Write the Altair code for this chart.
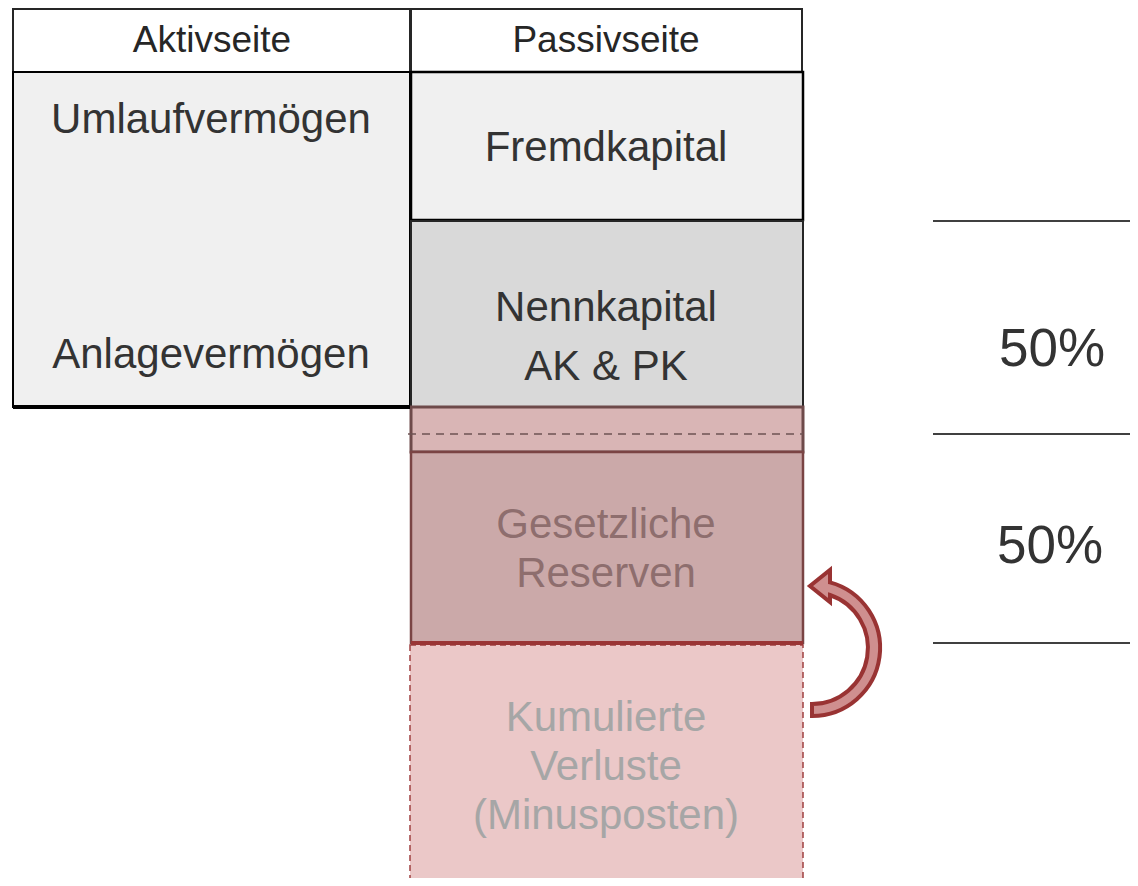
import altair as alt
import pandas as pd

# ---- data: balance-sheet blocks (diagram coordinates) ----
box_names = ["Aktivseite", "Passivseite", "Aktiva", "Fremdkapital", "Nennkapital",
             "Reserve-Streifen", "Gesetzliche Reserven"]
box_x0 = [13, 411, 13, 411, 411, 411, 411]
box_x1 = [410, 802, 410, 803, 803, 803, 803]
box_y0 = [9, 9, 72, 72, 221, 407, 452]
box_y1 = [72, 72, 407, 220, 407, 452, 643]
box_fill = ["#ffffff", "#ffffff", "#f0f0f0", "#f0f0f0", "#d9d9d9", "#d9b5b5", "#cba9a9"]
box_stroke = ["#262626", "#262626", "#000000", "#000000", "#262626", "#6e4a4a", "#7a4444"]
box_sw = [2, 2, 2, 2.5, 2, 3, 2.5]

loss_x0 = [410]
loss_x1 = [803]
loss_y0 = [645]
loss_y1 = [900]

rule_x0 = [13, 411, 408, 933, 933, 933]
rule_x1 = [410, 803, 803, 1140, 1140, 1140]
rule_y = [407, 643, 434, 221, 434, 643]
rule_col = ["#000000", "#993535", "#6e5353", "#000000", "#000000", "#000000"]
rule_sw = [4, 4, 1.5, 1.5, 1.5, 1.5]
rule_dash = ["solid", "solid", "dash", "solid", "solid", "solid"]

labels = ["Aktivseite", "Passivseite", "Umlaufvermögen", "Anlagevermögen", "Fremdkapital",
          "Nennkapital", "AK & PK", "Gesetzliche", "Reserven", "Kumulierte", "Verluste",
          "(Minusposten)", "50%", "50%"]
label_x = [212, 606, 211, 211, 606, 606, 606, 606, 606, 606, 606, 606, 1052, 1050]
label_y = [41, 41, 120, 355, 148, 308, 367, 525, 574, 718, 767, 816, 350, 547]
label_size = [37, 37, 42, 42, 42, 42, 42, 42, 42, 42, 42, 42, 53, 53]
label_col = ["#262626", "#262626", "#333333", "#333333", "#333333", "#333333", "#333333",
             "#8e6e6e", "#8e6e6e", "#a6a6a6", "#a6a6a6", "#a6a6a6", "#333333", "#333333"]

arrow_x = [812]
arrow_y = [648]

ARROW = ("M 0 0.85 A 0.85 0.85 0 0 0 0.225 -0.82 L 0.225 -0.975 L -0.025 -0.775 "
         "L 0.225 -0.575 L 0.225 -0.6625 A 0.7 0.7 0 0 1 0 0.7 Z")

xs = alt.Scale(domain=[8, 1130], nice=False, zero=False)
ys = alt.Scale(domain=[8, 878], nice=False, zero=False, reverse=True)

boxes = pd.DataFrame(dict(name=box_names, x0=box_x0, x1=box_x1, y0=box_y0, y1=box_y1,
                          fill=box_fill, stroke=box_stroke, sw=box_sw))
loss = pd.DataFrame(dict(x0=loss_x0, x1=loss_x1, y0=loss_y0, y1=loss_y1))
rules = pd.DataFrame(dict(x0=rule_x0, x1=rule_x1, y=rule_y, col=rule_col, sw=rule_sw, d=rule_dash))
texts = pd.DataFrame(dict(t=labels, x=label_x, y=label_y, fs=label_size, col=label_col))
arrow = pd.DataFrame(dict(x=arrow_x, y=arrow_y))

loss_layer = alt.Chart(loss).mark_rect(
    fill="#ebc8c8", stroke="#a04040", strokeWidth=1.5, strokeDash=[6, 4]
).encode(
    x=alt.X("x0:Q", scale=xs, axis=None), x2="x1:Q",
    y=alt.Y("y0:Q", scale=ys, axis=None), y2="y1:Q",
)

strip_outline = alt.Chart(boxes[boxes.name == "Reserve-Streifen"]).mark_rect(
    fill="#d9b5b5", stroke="#a03c3c", strokeWidth=2
).encode(
    x=alt.X("x0:Q", scale=xs, axis=None), x2="x1:Q",
    y=alt.Y("y0:Q", scale=ys, axis=None), y2="y1:Q",
)

box_layer = alt.Chart(boxes).mark_rect().encode(
    x=alt.X("x0:Q", scale=xs, axis=None), x2="x1:Q",
    y=alt.Y("y0:Q", scale=ys, axis=None), y2="y1:Q",
    fill=alt.Fill("fill:N", scale=None),
    stroke=alt.Stroke("stroke:N", scale=None),
    strokeWidth=alt.StrokeWidth("sw:Q", scale=None),
)

solid_rules = alt.Chart(rules[rules.d == "solid"]).mark_rule().encode(
    x=alt.X("x0:Q", scale=xs, axis=None), x2="x1:Q",
    y=alt.Y("y:Q", scale=ys, axis=None),
    color=alt.Color("col:N", scale=None),
    strokeWidth=alt.StrokeWidth("sw:Q", scale=None),
)
dash_rules = alt.Chart(rules[rules.d == "dash"]).mark_rule(strokeDash=[8, 6]).encode(
    x=alt.X("x0:Q", scale=xs, axis=None), x2="x1:Q",
    y=alt.Y("y:Q", scale=ys, axis=None),
    color=alt.Color("col:N", scale=None),
    strokeWidth=alt.StrokeWidth("sw:Q", scale=None),
)

arrow_layer = alt.Chart(arrow).mark_point(
    shape=ARROW, size=25600, filled=True, fill="#cf8f8f", stroke="#993333",
    strokeWidth=4, opacity=1
).encode(
    x=alt.X("x:Q", scale=xs, axis=None),
    y=alt.Y("y:Q", scale=ys, axis=None),
)

text_layer = alt.Chart(texts).mark_text(
    font="Liberation Sans", align="center", baseline="middle"
).encode(
    x=alt.X("x:Q", scale=xs, axis=None),
    y=alt.Y("y:Q", scale=ys, axis=None),
    text="t:N",
    size=alt.Size("fs:Q", scale=None),
    color=alt.Color("col:N", scale=None),
)

chart = alt.layer(
    loss_layer, strip_outline, box_layer, solid_rules, dash_rules, arrow_layer, text_layer
).properties(
    width=1122, height=870, padding=0, autosize=alt.AutoSizeParams(type="none"),
    background="#ffffff"
).configure_view(stroke=None)

chart.save("out.html", embed_options={"renderer": "svg", "actions": False})
